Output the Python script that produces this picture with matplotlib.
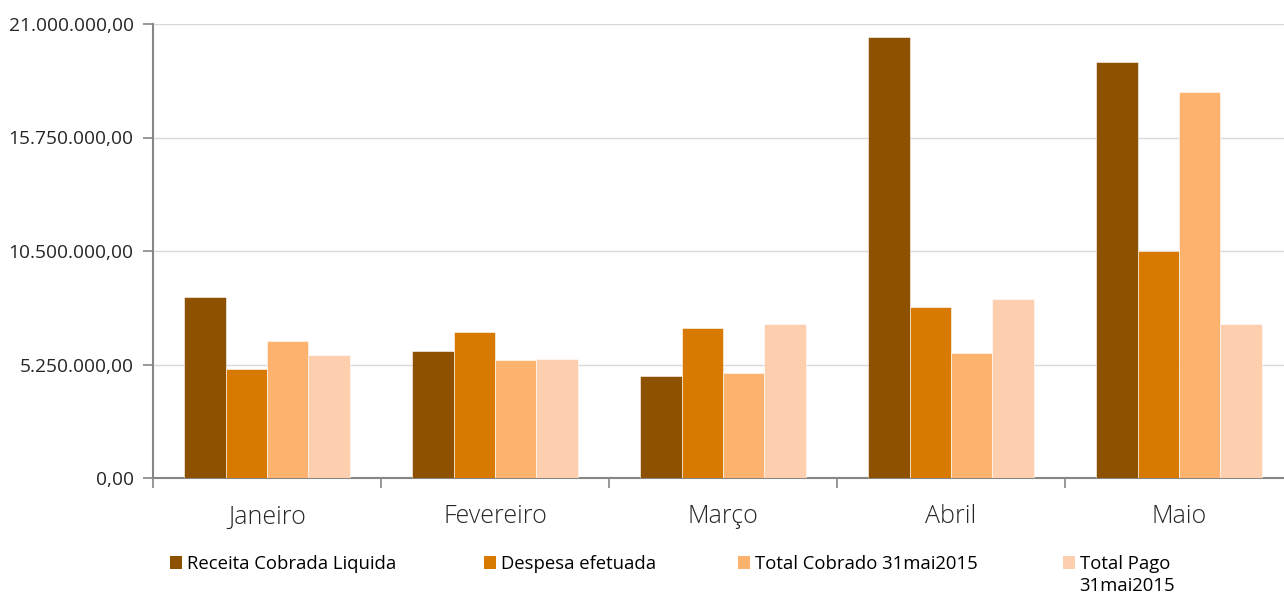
import numpy as np
import matplotlib
matplotlib.use("Agg")
import matplotlib.pyplot as plt
from matplotlib.patches import Patch
from matplotlib.ticker import FuncFormatter, FixedLocator

months = ["Janeiro", "Fevereiro", "Março", "Abril", "Maio"]
series_names = ["Receita Cobrada Liquida", "Despesa efetuada",
                "Total Cobrado 31mai2015", "Total Pago"]
receita = [8370000, 5870000, 4720000, 20400000, 19240000]
despesa = [5040000, 6750000, 6940000, 7910000, 10500000]
cobrado = [6340000, 5460000, 4860000, 5780000, 17850000]
pago = [5690000, 5500000, 7120000, 8280000, 7120000]
yticks = [0, 5250000, 10500000, 15750000, 21000000]

colors = ["#8E5100", "#D87A02", "#FDB26E", "#FDCFAE"]

plt.rcParams["font.family"] = ["Open Sans", "DejaVu Sans"]

fig = plt.figure(figsize=(12.84, 5.96), dpi=100)
ax = fig.add_axes([153 / 1284, 1 - 478 / 596, 1140 / 1284, 454 / 596])

x = np.arange(len(months))
w = 0.181
for i, vals in enumerate([receita, despesa, cobrado, pago]):
    ax.bar(x + (i - 1.5) * w, vals, width=w, color=colors[i],
           edgecolor="white", linewidth=0.4, zorder=3)

ax.set_xlim(-0.5, 4.5)
ax.set_ylim(0, 21000000)
ax.set_yticks(yticks)
fmt = lambda v, p: f"{v:,.2f}".replace(",", "X").replace(".", ",").replace("X", ".")
ax.yaxis.set_major_formatter(FuncFormatter(fmt))
ax.grid(axis="y", color="#D9D9D9", linewidth=1, zorder=0)

ax.xaxis.set_major_locator(FixedLocator(np.arange(-0.5, 4.5, 1)))
ax.xaxis.set_minor_locator(FixedLocator(x))
ax.set_xticklabels([], minor=False)
ax.set_xticklabels(months, minor=True)
ax.tick_params(axis="x", which="major", length=7, width=1.2, color="#868686")
ax.tick_params(axis="x", which="minor", length=0, pad=19, labelsize=18, labelcolor="#262626")
ax.tick_params(axis="y", length=7, width=1.2, color="#868686", pad=7,
               labelsize=13.8, labelcolor="#262626")
for lbl in ax.get_xticklabels(minor=True):
    lbl.set_fontweight("light")

for s in ["top", "right"]:
    ax.spines[s].set_visible(False)
for s in ["left", "bottom"]:
    ax.spines[s].set_color("#868686")
    ax.spines[s].set_linewidth(1.5)

leg_x = [170, 484, 738, 1063]
legends = []
for i, name in enumerate(series_names):
    lg = fig.legend(handles=[Patch(facecolor=colors[i])], labels=[name],
                    loc="upper left", bbox_to_anchor=(leg_x[i] / 1284, 1 - 555 / 596),
                    frameon=False, fontsize=13.3, handlelength=0.65, handleheight=0.65,
                    handletextpad=0.25, borderpad=0, borderaxespad=0, labelcolor="#000000")
    legends.append(lg)

# second line of the last legend entry
fig.canvas.draw()
bb = legends[-1].get_texts()[0].get_window_extent()
fig.text(bb.x0 / 1284, (bb.y0 - 22) / 596, "31mai2015", fontsize=13.3, color="#000000",
         ha="left", va="bottom")

fig.savefig("out.png", dpi=100)
